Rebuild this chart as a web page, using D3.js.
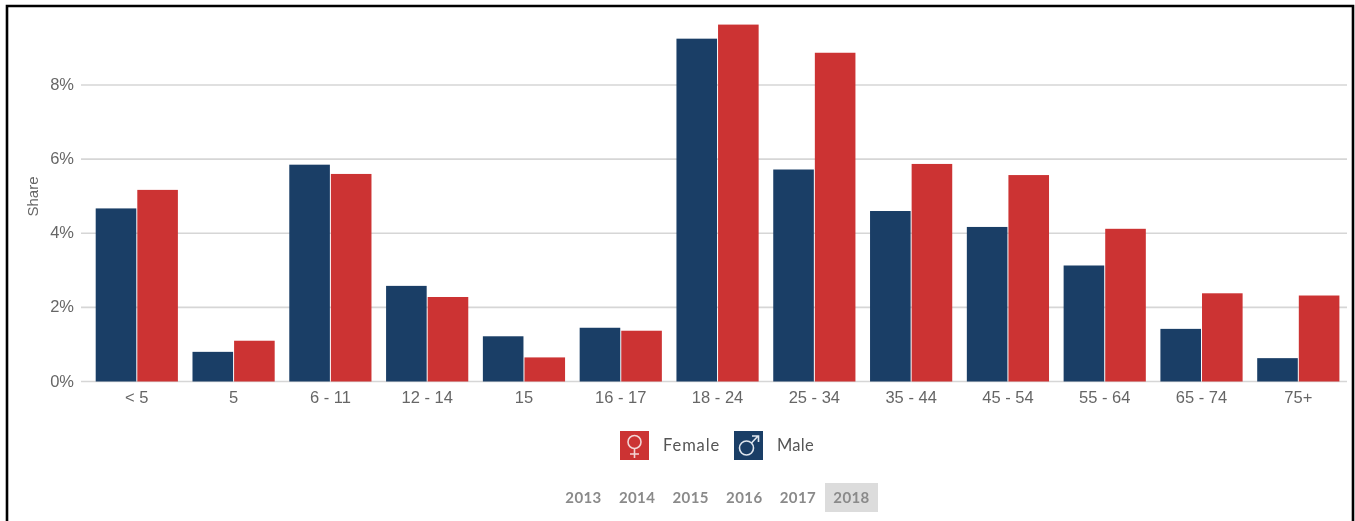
<!DOCTYPE html>
<html><head><meta charset="utf-8">
<script src="https://cdn.jsdelivr.net/npm/d3@7"></script>
<style>
html,body{margin:0;padding:0;background:#fff}
svg{display:block;filter:blur(.35px)}
text{font-family:"Liberation Sans",Arial,sans-serif}
</style></head><body><svg id="c" width="1355" height="521"></svg>
<script>
const categories=["< 5","5","6 - 11","12 - 14","15","16 - 17","18 - 24","25 - 34","35 - 44","45 - 54","55 - 64","65 - 74","75+"];
const maleValues=[4.67,0.8,5.85,2.58,1.22,1.45,9.25,5.72,4.6,4.17,3.13,1.42,0.63];
const femaleValues=[5.17,1.1,5.6,2.28,0.65,1.37,9.63,8.87,5.87,5.57,4.12,2.38,2.32];
const yTicks=[0,2,4,6,8];
const years=["2013","2014","2015","2016","2017","2018"];
const legendItems=[{name:"Female",color:"#cc3333"},{name:"Male",color:"#1a3e66"}];

const svg=d3.select("#c");
const y0=381.5, yScale=d3.scaleLinear().domain([0,8]).range([y0,85]);
const x=d3.scaleBand().domain(categories).range([88.4,1346.7]).paddingInner(0).paddingOuter(0);
const groupPad=6.8, inner=d3.scaleBand().domain(["male","female"]).range([groupPad,x.bandwidth()-groupPad]);

// frame
svg.append("path").attr("d","M7,521V6H1353V521").attr("fill","none").attr("stroke","#000").attr("stroke-width",2.6);

// grid
svg.append("g").selectAll("line").data(yTicks).join("line")
 .attr("x1",81).attr("x2",1347).attr("y1",d=>yScale(d)).attr("y2",d=>yScale(d))
 .attr("stroke","#d6d6d6").attr("stroke-width",1.6);

// y axis
const gy=svg.append("g").attr("transform","translate(74,-0.7)")
 .call(d3.axisLeft(yScale).tickValues(yTicks).tickFormat(d=>d+"%").tickSize(0).tickPadding(0));
gy.select(".domain").remove();
gy.selectAll("text").attr("font-size",16.5).attr("fill","#666").style("font-family",'"Liberation Sans",Arial,sans-serif');

svg.append("text").attr("transform","translate(38,196.5) rotate(-90)").attr("text-anchor","middle")
 .attr("font-size",15).attr("fill","#666").text("Share");

// bars
const series=[{k:"male",v:maleValues,c:"#1a3e66"},{k:"female",v:femaleValues,c:"#cc3333"}];
series.forEach(s=>{
 svg.append("g").selectAll("rect").data(s.v).join("rect")
  .attr("x",(d,i)=>x(categories[i])+inner(s.k)+0.5)
  .attr("width",inner.bandwidth()-1)
  .attr("y",d=>yScale(d))
  .attr("height",d=>y0-yScale(d))
  .attr("fill",s.c);
});

// x axis
const gx=svg.append("g").attr("transform",`translate(0,${y0})`).call(d3.axisBottom(x).tickSize(0).tickPadding(10));
gx.select(".domain").remove();
gx.selectAll("text").attr("font-size",16.5).attr("fill","#666").style("font-family",'"Liberation Sans",Arial,sans-serif');

// legend
const boxX={Female:620,Male:734}, lg=svg.append("g");
legendItems.forEach(it=>{
 const g=lg.append("g").attr("transform",`translate(${boxX[it.name]},431)`);
 g.append("rect").attr("width",29).attr("height",29).attr("fill",it.color);
 if(it.name==="Female"){
  g.append("circle").attr("cx",14.5).attr("cy",11).attr("r",6.5).attr("fill","none").attr("stroke","#f3d5d5").attr("stroke-width",1.6);
  g.append("path").attr("d","M14.5,17.5V27M10,23H19").attr("fill","none").attr("stroke","#f3d5d5").attr("stroke-width",1.6);
 }else{
  g.append("circle").attr("cx",12.5).attr("cy",17).attr("r",7).attr("fill","none").attr("stroke","#dfe6ee").attr("stroke-width",1.6);
  g.append("path").attr("d","M17.5,12L24,5M18,5H24.5V11").attr("fill","none").attr("stroke","#dfe6ee").attr("stroke-width",1.6);
 }
 g.append("text").attr("x",43).attr("y",19.5).attr("font-size",16.5).attr("fill","#555")
  .style("font-family","Lato,sans-serif").style("letter-spacing",it.name==="Female"?"0.9px":"0.3px").text(it.name);
});

// year selector
const yearX=d3.scalePoint().domain(years).range([583.5,851.5]);
svg.append("rect").attr("x",825).attr("y",483).attr("width",53).attr("height",29).attr("fill","#dcdcdc");
svg.append("g").selectAll("text").data(years).join("text")
 .attr("x",d=>yearX(d)).attr("y",503).attr("text-anchor","middle")
 .attr("font-size",15).attr("font-weight",700).attr("fill","#8a8a8a")
 .style("font-family","Lato,sans-serif").style("letter-spacing","0.4px").text(d=>d);
</script></body></html>
